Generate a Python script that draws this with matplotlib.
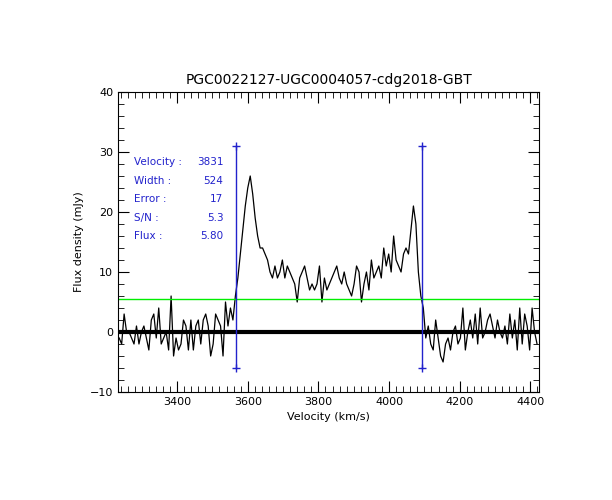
import numpy as np
import matplotlib.pyplot as plt
from matplotlib.ticker import MultipleLocator

# spectrum, 7 km/s channels
flux_pre = [-1, -2, 3, 0, 0, -1, -2, 1, -2, 0, 1, -1, -3, 2, 3, -1, 4, -2, -1, 0,
            -3, 6, -4, -1, -3, -2, 2, 1, -3, 2, -3, 1, 2, -2, 2, 3, 1, -4, -2, 3,
            2, 1, -4, 5, 1, 4, 2]
flux_src = [6, 9, 13, 17, 21, 24, 26, 23, 19, 16, 14, 14, 13, 12, 10, 9, 11, 9, 10, 12,
            9, 11, 10, 9, 8, 5, 9, 10, 11, 9, 7, 8, 7, 8, 11, 5, 9, 7, 8, 9,
            10, 11, 9, 8, 10, 8, 7, 6, 8, 11, 10, 5, 8, 10, 7, 12, 9, 10, 11, 9,
            14, 11, 13, 10, 16, 12, 11, 10, 13, 14, 13, 17, 21, 18, 10, 6]
flux_post = [4, -1, 1, -2, -3, 2, -1, -4, -5, -2, -1, -3, 0, 1, -2, -1, 4, -3, 0, 2,
             -1, 3, -2, 4, -1, 0, 2, 3, 1, -1, 2, 0, -1, 1, -2, 3, -1, 2, -3, 4,
             -2, 3, 1, -3, 4, 0, -2]
v_start = 3236
dv = 7

level = 5.5
v_lo, v_hi = 3566, 4093
marker_y = [-6, 31]

labels = ["Velocity :", "Width :", "Error :", "S/N :", "Flux :"]
values = ["3831", "524", "17", "5.3", "5.80"]

flux = np.array(flux_pre + flux_src + flux_post, dtype=float)
vel = v_start + dv * np.arange(len(flux))

plt.rcParams['font.size'] = 8
fig = plt.figure(figsize=(6.12, 5.0), dpi=100)
ax = fig.add_axes([0.193, 0.216, 0.688, 0.6])

ax.plot(vel, flux, color='black', lw=0.9)
ax.axhline(0, color='black', lw=3)
ax.axhline(level, color='#00ee00', lw=1)
for v in (v_lo, v_hi):
    ax.plot([v, v], marker_y, color='#2222cc', lw=1, marker='+', ms=6)

for i, (lab, val) in enumerate(zip(labels, values)):
    y = 0.767 - i * 0.062
    ax.text(0.038, y, lab, color='#2222cc', transform=ax.transAxes, fontsize=7.5, va='center')
    ax.text(0.25, y, val, color='#2222cc', transform=ax.transAxes, fontsize=7.5,
            ha='right', va='center')

ax.set_xlim(3233, 4425)
ax.set_ylim(-10, 40)
ax.xaxis.set_major_locator(MultipleLocator(200))
ax.xaxis.set_minor_locator(MultipleLocator(20))
ax.yaxis.set_major_locator(MultipleLocator(10))
ax.yaxis.set_minor_locator(MultipleLocator(2))
ax.tick_params(which='both', direction='in', top=True, right=True)
ax.tick_params(which='major', length=8)
ax.tick_params(which='minor', length=4)
ax.set_xlabel("Velocity (km/s)")
ax.set_ylabel("Flux density (mJy)")
ax.set_title("PGC0022127-UGC0004057-cdg2018-GBT", fontsize=10)

fig.savefig("out.png")
